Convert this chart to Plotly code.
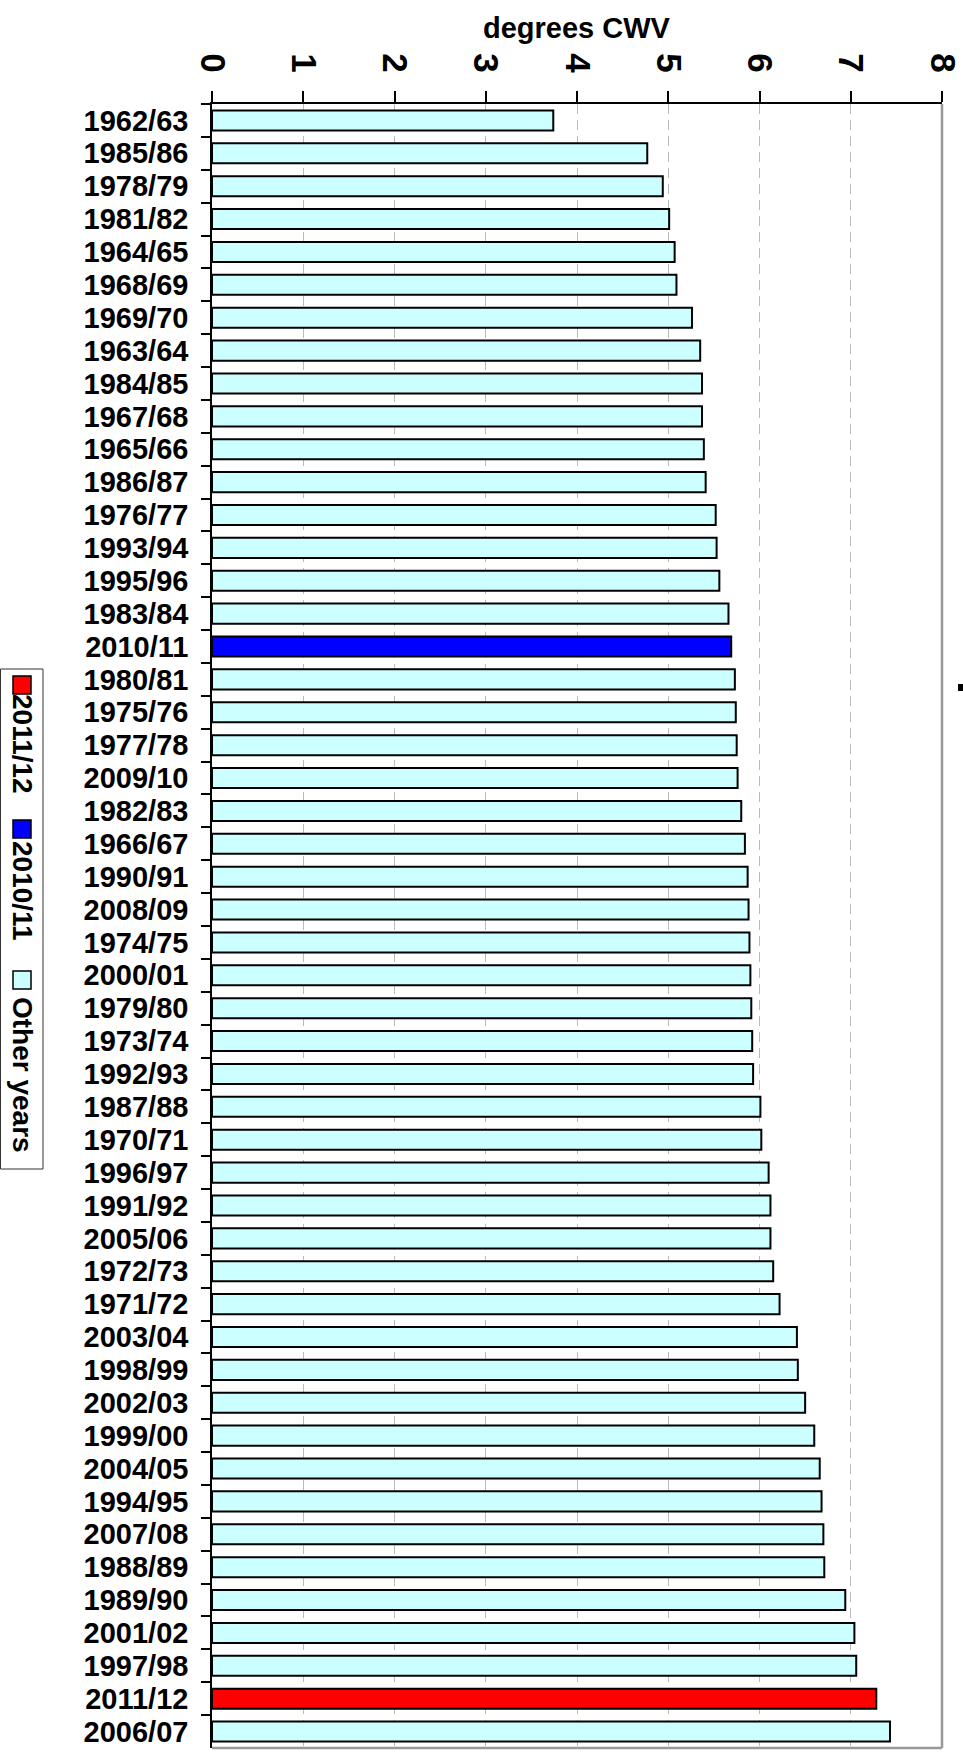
import plotly.graph_objects as go

# ---------------- data ----------------
seasons = [
    "1962/63", "1985/86", "1978/79", "1981/82", "1964/65", "1968/69", "1969/70",
    "1963/64", "1984/85", "1967/68", "1965/66", "1986/87", "1976/77", "1993/94",
    "1995/96", "1983/84", "2010/11", "1980/81", "1975/76", "1977/78", "2009/10",
    "1982/83", "1966/67", "1990/91", "2008/09", "1974/75", "2000/01", "1979/80",
    "1973/74", "1992/93", "1987/88", "1970/71", "1996/97", "1991/92", "2005/06",
    "1972/73", "1971/72", "2003/04", "1998/99", "2002/03", "1999/00", "2004/05",
    "1994/95", "2007/08", "1988/89", "1989/90", "2001/02", "1997/98", "2011/12",
    "2006/07",
]
cwv = [
    3.74, 4.77, 4.94, 5.01, 5.07, 5.09, 5.26,
    5.35, 5.37, 5.37, 5.39, 5.41, 5.52, 5.53,
    5.56, 5.66, 5.69, 5.73, 5.74, 5.75, 5.76,
    5.80, 5.84, 5.87, 5.88, 5.89, 5.90, 5.91,
    5.92, 5.93, 6.01, 6.02, 6.10, 6.12, 6.12,
    6.15, 6.22, 6.41, 6.42, 6.50, 6.60, 6.66,
    6.68, 6.70, 6.71, 6.94, 7.04, 7.06, 7.28,
    7.43,
]
x_ticks = [0, 1, 2, 3, 4, 5, 6, 7, 8]
legend_labels = ["2011/12", "2010/11", "Other years"]
legend_colors = ["#FF0000", "#0000FF", "#CCFFFF"]
highlight = {"2011/12": "#FF0000", "2010/11": "#0000FF"}
other_color = "#CCFFFF"

# ---------------- layout geometry ----------------
W, H = 963, 1754
L, R, T, B = 212, 21, 104, 6
PW, PH = W - L - R, H - T - B
FONT = "Liberation Sans, Arial, Helvetica, sans-serif"


def px2x(px):
    return (px - L) / PW


def py2y(py):
    return (H - B - py) / PH


bar_colors = [highlight.get(s, other_color) for s in seasons]

fig = go.Figure()
fig.add_trace(go.Bar(
    y=seasons, x=cwv, orientation="h",
    marker=dict(color=bar_colors, line=dict(color="#000000", width=2)),
    showlegend=False, hoverinfo="x+y",
))

shapes = []
annotations = []

# right & bottom gray frame
shapes.append(dict(type="line", xref="paper", yref="paper", x0=1, x1=1, y0=0, y1=1,
                   line=dict(color="#999999", width=2.5)))
shapes.append(dict(type="line", xref="paper", yref="paper", x0=0, x1=1, y0=0, y1=0,
                   line=dict(color="#999999", width=2.5)))
# small mark at right edge
shapes.append(dict(type="rect", xref="paper", yref="paper",
                   x0=px2x(958), x1=px2x(963), y0=py2y(691), y1=py2y(684),
                   line=dict(width=0), fillcolor="#000000"))

# vertical legend (rotated)
box_top, box_bot = 669, 1169
shapes.append(dict(type="rect", xref="paper", yref="paper",
                   x0=px2x(0.5), x1=px2x(43), y0=py2y(box_bot), y1=py2y(box_top),
                   line=dict(color="#333333", width=1), fillcolor="#FFFFFF"))
sq_tops = [676, 820, 971]
text_centers = [744, 891, 1075]
for lab, col, st, tc in zip(legend_labels, legend_colors, sq_tops, text_centers):
    shapes.append(dict(type="rect", xref="paper", yref="paper",
                       x0=px2x(13), x1=px2x(31), y0=py2y(st + 18), y1=py2y(st),
                       line=dict(color="#000000", width=1.5), fillcolor=col))
    annotations.append(dict(xref="paper", yref="paper", x=px2x(23), y=py2y(tc),
                            text=lab, textangle=90, showarrow=False,
                            xanchor="center", yanchor="middle",
                            font=dict(family=FONT, size=28, color="#000000", weight="bold")))

# axis title
annotations.append(dict(xref="paper", yref="paper", x=0.5, y=py2y(28),
                        text="degrees CWV", showarrow=False,
                        xanchor="center", yanchor="middle",
                        font=dict(family=FONT, size=29, color="#000000", weight="bold")))

fig.update_layout(
    width=W, height=H,
    margin=dict(l=L, r=R, t=T, b=B, pad=0, autoexpand=False),
    paper_bgcolor="#FFFFFF", plot_bgcolor="#FFFFFF",
    bargap=0.39,
    shapes=shapes, annotations=annotations,
    font=dict(family=FONT, color="#000000"),
)
fig.update_xaxes(
    side="top", range=[0, 8], tickvals=x_ticks, ticktext=[str(v) for v in x_ticks],
    tickangle=90, ticks="outside", ticklen=11, tickwidth=1.5, tickcolor="#000000",
    showline=True, linecolor="#000000", linewidth=2,
    showgrid=True, gridcolor="#BBBBBB", gridwidth=1, griddash="10px,6px",
    zeroline=False, ticklabelstandoff=6, automargin=False,
    tickfont=dict(family=FONT, size=35, color="#000000", weight="bold"),
)
fig.update_yaxes(
    autorange="reversed", type="category", tickson="boundaries",
    tickmode="linear", tick0=0, dtick=1,
    ticks="outside", ticklen=9, tickwidth=1.5, tickcolor="#000000",
    showline=True, linecolor="#000000", linewidth=1.5,
    showgrid=False, zeroline=False, ticklabelstandoff=16, automargin=False,
    tickfont=dict(family=FONT, size=29, color="#000000", weight="bold"),
)

fig.write_html(
    "out.html",
    config={"displayModeBar": False},
    post_script="document.body.style.margin='0';document.body.style.overflow='hidden';",
)
